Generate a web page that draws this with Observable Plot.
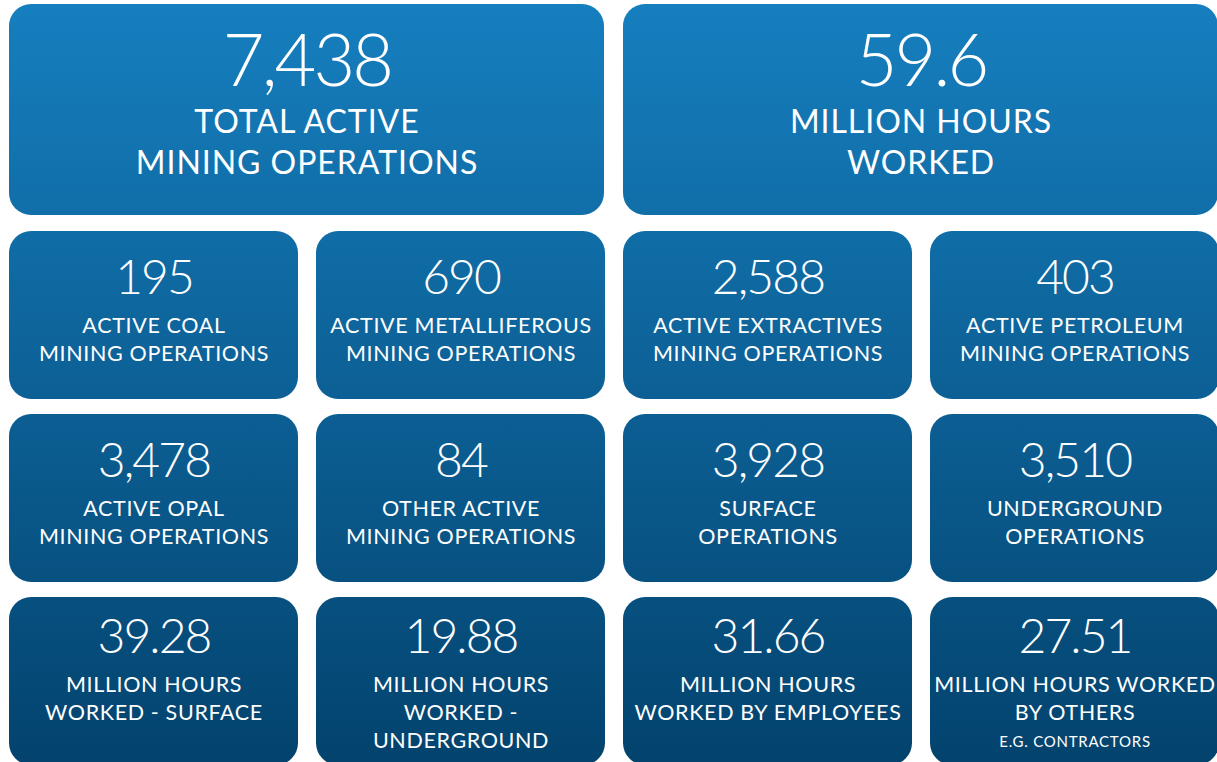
<!DOCTYPE html>
<html><head><meta charset="utf-8">
<script src="https://cdn.jsdelivr.net/npm/d3@7"></script>
<script src="https://cdn.jsdelivr.net/npm/@observablehq/plot@0.6"></script>
<style>
html,body{margin:0;padding:0;background:#fff;overflow:hidden}
svg{display:block}
</style></head><body><div id="chart"></div>
<script>
// ---- Data ----
const headlineValues = [7438, 59.6];
const headlineLabels = ["TOTAL ACTIVE\nMINING OPERATIONS", "MILLION HOURS\nWORKED"];
const tileValues = [195, 690, 2588, 403, 3478, 84, 3928, 3510, 39.28, 19.88, 31.66, 27.51];
const tileLabels = [
  "ACTIVE COAL\nMINING OPERATIONS",
  "ACTIVE METALLIFEROUS\nMINING OPERATIONS",
  "ACTIVE EXTRACTIVES\nMINING OPERATIONS",
  "ACTIVE PETROLEUM\nMINING OPERATIONS",
  "ACTIVE OPAL\nMINING OPERATIONS",
  "OTHER ACTIVE\nMINING OPERATIONS",
  "SURFACE\nOPERATIONS",
  "UNDERGROUND\nOPERATIONS",
  "MILLION HOURS\nWORKED - SURFACE",
  "MILLION HOURS\nWORKED -\nUNDERGROUND",
  "MILLION HOURS\nWORKED BY EMPLOYEES",
  "MILLION HOURS WORKED\nBY OTHERS"
];
const tileNotes = ["", "", "", "", "", "", "", "", "", "", "", "E.G. CONTRACTORS"];

// ---- Layout ----
const W = 1217, H = 762;
const fmt = d3.format(",");
const FONT = "Lato, 'Open Sans', sans-serif";

const tiles = [];
const numbers = [];
const labelLines = [];
const notes = [];

headlineValues.forEach((v, j) => {
  const x1 = 9 + j * 614, x2 = x1 + 595, y1 = 4, y2 = 215;
  const cx = (x1 + x2) / 2;
  tiles.push({x1, x2, y1, y2});
  numbers.push({x: cx, y: y1 + 81, text: fmt(v), size: 72});
  headlineLabels[j].split("\n").forEach((t, k) => labelLines.push({x: cx, y: y1 + 128 + k * 41, text: t, size: 32}));
});

tileValues.forEach((v, i) => {
  const c = i % 4, r = Math.floor(i / 4);
  const x1 = 9 + c * 307, x2 = x1 + 289, y1 = 231 + r * 183, y2 = y1 + 168;
  const cx = (x1 + x2) / 2;
  const shift = r === 2 ? -7 : 0;
  tiles.push({x1, x2, y1, y2});
  numbers.push({x: cx, y: y1 + 62 + shift, text: fmt(v), size: 48});
  tileLabels[i].split("\n").forEach((t, k) => labelLines.push({x: cx, y: y1 + 101 + shift + k * 28, text: t, size: 21.5}));
  if (tileNotes[i]) notes.push({x: cx, y: y1 + 149, text: tileNotes[i], size: 15});
});

function gradientDefs() {
  const defs = d3.create("svg:defs");
  const g = defs.append("linearGradient").attr("id", "tileGrad")
    .attr("gradientUnits", "userSpaceOnUse")
    .attr("x1", 0).attr("x2", 0).attr("y1", 0).attr("y2", H);
  g.append("stop").attr("offset", "0%").attr("stop-color", "#167fbf");
  g.append("stop").attr("offset", "100%").attr("stop-color", "#03436e");
  return defs.node();
}

const chart = Plot.plot({
  width: W, height: H, margin: 0,
  x: {domain: [0, W], range: [0, W], axis: null},
  y: {domain: [0, H], range: [0, H], axis: null},
  style: {background: "white", fontFamily: FONT},
  marks: [
    gradientDefs,
    Plot.rect(tiles, {x1: "x1", x2: "x2", y1: "y1", y2: "y2", rx: 22, fill: "url(#tileGrad)"}),
    Plot.text(numbers, {x: "x", y: "y", text: "text", fontSize: 48, fill: "white", textAnchor: "middle", lineAnchor: "bottom", fontWeight: 300, fontFamily: FONT}),
    Plot.text(labelLines, {x: "x", y: "y", text: "text", fill: "white", textAnchor: "middle", lineAnchor: "bottom", fontWeight: 400, fontFamily: FONT}),
    Plot.text(notes, {x: "x", y: "y", text: "text", fontSize: 15, fill: "white", textAnchor: "middle", lineAnchor: "bottom", fontWeight: 400, fontFamily: FONT})
  ]
});

// per-datum font sizes and tracking
d3.select(chart).selectAll("g[aria-label='text']").each(function(_, gi) {
  const data = [numbers, labelLines, notes][gi];
  d3.select(this).selectAll("text").each(function(_, i) {
    if (data && data[i]) {
      this.setAttribute("font-size", data[i].size);
      this.style.letterSpacing = gi === 0 ? "-0.04em" : (gi === 1 ? "0.03em" : "0.05em");
    }
  });
});

document.getElementById("chart").appendChild(chart);
</script>
</body></html>
